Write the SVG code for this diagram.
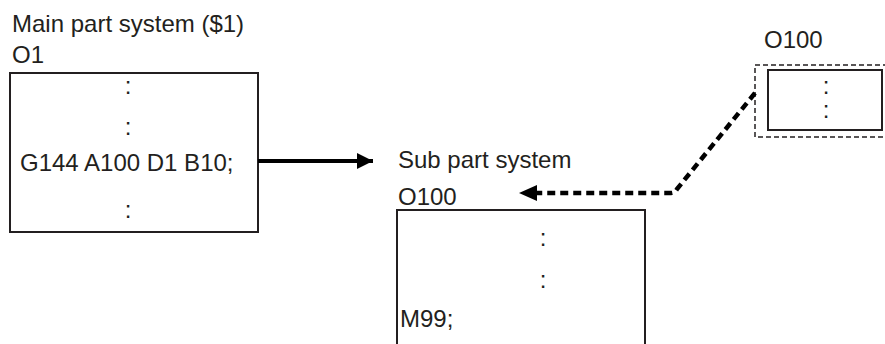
<svg xmlns="http://www.w3.org/2000/svg" width="885" height="344" viewBox="0 0 885 344">
<defs>
<style>
text{font-family:"Liberation Sans",Arial,sans-serif;font-size:24px;fill:#231f20}
.box{fill:#fff;stroke:#231f20;stroke-width:2}
.frame{fill:none;stroke:#231f20;stroke-width:1.5;stroke-dasharray:5 3}
.c{text-anchor:middle}
</style>
<marker id="ah" viewBox="0 0 16 16" refX="16" refY="8" markerWidth="16" markerHeight="16" markerUnits="userSpaceOnUse" orient="auto"><path d="M0,0 L16,8 L0,16 Z" fill="#000"/></marker>
</defs>
<rect width="885" height="344" fill="#fff"/>
<g id="main">
<text x="12" y="32">Main part system ($1)</text>
<text x="12" y="63">O1</text>
<rect class="box" x="10" y="73" width="248" height="159"/>
<text class="c" x="128" y="94">:</text>
<text class="c" x="128" y="135">:</text>
<text x="20" y="171">G144 A100 D1 B10;</text>
<text class="c" x="128" y="218">:</text>
</g>
<g id="sub">
<text x="398" y="168">Sub part system</text>
<text x="398" y="205">O100</text>
<rect class="box" x="397" y="210" width="248" height="140"/>
<text class="c" x="543" y="246">:</text>
<text class="c" x="543" y="288">:</text>
<text x="400" y="327">M99;</text>
</g>
<g id="o100">
<text x="764" y="48">O100</text>
<rect class="frame" x="755" y="65" width="140" height="72"/>
<rect class="box" x="768" y="70" width="114" height="60"/>
<text class="c" x="826" y="94">:<tspan x="826" dy="24">:</tspan></text>
</g>
<g id="connectors">
<line x1="258" y1="161" x2="373" y2="161" stroke="#000" stroke-width="4" marker-end="url(#ah)"/>
<path d="M755,93 L677,189 Q675,193 671,193 L535,193" fill="none" stroke="#000" stroke-width="4.5" stroke-dasharray="8 5"/>
<path d="M537,185 L519,193 L537,201 Z" fill="#000"/>
</g>
</svg>
